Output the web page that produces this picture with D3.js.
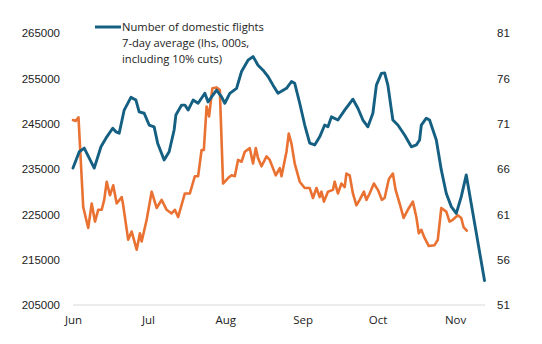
<!DOCTYPE html>
<html>
<head>
<meta charset="utf-8">
<script src="https://cdn.jsdelivr.net/npm/d3@7"></script>
<style>
  body { margin: 0; background: #fff; }
  svg { display: block; }
</style>
</head>
<body>
<svg id="chart" width="542" height="344"></svg>
<script>
// days counted from 1 June
const startDate = new Date(2022, 5, 1);
const monthLabels = ["Jun", "Jul", "Aug", "Sep", "Oct", "Nov"];
const leftTicks = [205000, 215000, 225000, 235000, 245000, 255000, 265000];
const rightTicks = [51, 56, 61, 66, 71, 76, 81];
const legendLines = ["Number of domestic flights", "7-day average (lhs, 000s,", "including 10% cuts)"];

// domestic flights, 7-day average (lhs)
const flightDays = [0, 2.5, 4.5, 8.5, 11.2, 13.2, 15.9, 17.2, 18.5, 20.5, 23.2, 25.2, 26.5, 28.5, 30.5, 32.5, 33.9, 36.5, 38.5, 40.5,
  41.2, 43.5, 44.8, 46.1, 48.1, 50.1, 52.8, 54.1, 55.5, 57.5, 59.5, 60.8, 62.8, 65.5, 67.5, 70.1, 72.1, 74.1, 76.1, 78.1,
  80.1, 82.1, 85.5, 87.5, 88.8, 90.8, 92.8, 94.8, 96.8, 98.8, 100.8, 102.1, 103.5, 106.1, 108.8, 112.1, 114.1, 116.1, 118.1, 120.1,
  121.5, 123.5, 124.8, 126.1, 128.1, 130.1, 132.8, 135.5, 137.5, 138.8, 139.5, 141.5, 142.8, 145.5, 147.5, 149.5, 151.5, 153.5, 155.5, 157.5,
  164.8];
const flightValues = [235200, 238800, 239600, 235200, 239900, 241800, 244000, 243200, 242900, 248000, 250800, 250200, 247600, 247300, 244700, 244300, 240700, 237000, 238800, 243600,
  246900, 249100, 249100, 248000, 250200, 249500, 251700, 249800, 250900, 252400, 250900, 249500, 251700, 252800, 256500, 259000, 259800, 257900, 256800, 255400,
  253500, 251700, 252800, 254300, 253900, 249500, 244700, 240700, 240300, 242100, 244700, 244300, 246500, 245800, 248000, 250400, 248400, 245800, 244300, 247300,
  253500, 256100, 256200, 253500, 245800, 244700, 242500, 239900, 240300, 241400, 244700, 246200, 245800, 241400, 234800, 229600, 226700, 225200, 228900, 233700,
  210400];

// second series (rhs)
const rhsDays = [0, 1.1, 2.2, 4.1, 6.1, 7.5, 8.8, 10.1, 11.5, 12.5, 13.5, 14.8, 16.1, 17.5, 19.5, 20, 22.1, 23.5, 25.5, 26.8,
  27.5, 29.5, 31.5, 33.5, 35.5, 37.5, 39.5, 40.8, 42.1, 44.8, 46.8, 48.8, 50.1, 51.5, 52.4, 53.5, 54.5, 55.8, 57.5, 58.8,
  60.1, 62.1, 63.5, 64.8, 66.1, 67.5, 68.8, 70.8, 72.1, 73.2, 74.1, 75.5, 77.5, 78.8, 81.2, 82.8, 83.5, 85.5, 86.4, 87.5,
  88.8, 90.8, 92.8, 94.8, 96.1, 97.5, 98.8, 99.5, 100.5, 102.1, 104.1, 104.8, 106.1, 107.5, 108.8, 109.5, 110.8, 112.1, 113.5, 114.8,
  116.5, 117.5, 118.8, 120.5, 122.1, 123.7, 124.8, 126.5, 128.1, 129.2, 130.8, 132.4, 134.1, 136.1, 137.5, 138.5, 139.5, 140.8, 142.5, 144.8,
  146.1, 147.5, 149.5, 150.8, 152.1, 154.1, 155.5, 156.4, 157.7];
const rhsValues = [71.4, 71.3, 71.7, 61.8, 59.5, 62.2, 60.2, 61.5, 61.5, 62.6, 64.6, 63.1, 64.2, 62.2, 62.9, 62.2, 58.2, 59.1, 57.1, 58.9,
  58.0, 60.4, 63.5, 61.7, 62.6, 61.5, 61.1, 61.5, 60.7, 63.3, 63.3, 65.2, 65.2, 68.1, 68.1, 72.9, 71.8, 74.9, 75.0, 74.7,
  64.4, 65.0, 65.3, 65.2, 67.0, 66.8, 67.9, 68.3, 66.6, 68.3, 67.2, 66.3, 67.4, 67.0, 65.3, 66.1, 65.2, 67.9, 69.9, 68.8,
  66.6, 64.6, 63.9, 63.9, 62.8, 63.9, 62.9, 63.5, 62.4, 63.5, 63.7, 64.6, 63.3, 64.4, 64.0, 65.5, 65.3, 63.3, 62.0, 62.6,
  63.5, 62.6, 63.3, 64.4, 63.7, 62.6, 62.8, 64.9, 65.5, 63.7, 62.2, 60.6, 61.5, 62.4, 60.7, 58.9, 59.3, 58.4, 57.5, 57.6,
  58.2, 61.7, 61.3, 60.2, 60.4, 60.9, 60.6, 59.6, 59.2];

const svg = d3.select("#chart"),
  blue = "#156082",
  orange = "#E97132",
  margin = {top: 33, right: 57, bottom: 39, left: 73},
  width = +svg.attr("width"),
  height = +svg.attr("height");

const toDate = d => new Date(startDate.getTime() + d * 864e5);

const x = d3.scaleTime()
  .domain([startDate, toDate(165)])
  .range([margin.left, width - margin.right]);
const yL = d3.scaleLinear().domain([205000, 265000]).range([height - margin.bottom, margin.top]);
const yR = d3.scaleLinear().domain([51, 81]).range([height - margin.bottom, margin.top]);

// baseline
svg.append("line")
  .attr("x1", x.range()[0]).attr("x2", x.range()[1])
  .attr("y1", yL(205000)).attr("y2", yL(205000))
  .attr("stroke", "#d9d9d9").attr("stroke-width", 1);

const numFont = "'Liberation Sans', Arial, sans-serif";
const txtFont = "'Open Sans', 'Noto Sans', sans-serif";

const left = svg.append("g")
  .attr("transform", "translate(" + margin.left + ",0)")
  .call(d3.axisLeft(yL).tickValues(leftTicks).tickSize(0).tickPadding(13).tickFormat(d3.format("d")));
const right = svg.append("g")
  .attr("transform", "translate(" + (width - margin.right) + ",0)")
  .call(d3.axisRight(yR).tickValues(rightTicks).tickSize(0).tickPadding(12).tickFormat(d3.format("d")));
const bottom = svg.append("g")
  .attr("transform", "translate(0," + yL(205000) + ")")
  .call(d3.axisBottom(x).ticks(d3.timeMonth.every(1)).tickSize(0).tickPadding(11)
    .tickFormat((d, i) => monthLabels[i]));

[left, right, bottom].forEach(g => {
  g.select(".domain").remove();
  g.selectAll("text").attr("fill", "#222").style("font-size", "11.5px").style("font-family", numFont);
});
bottom.selectAll("text").style("font-family", txtFont).style("font-size", "11.5px");

const line = (days, vals, y) => d3.line()
  .x((d, i) => x(toDate(days[i])))
  .y(d => y(d))
  .curve(d3.curveLinear)(vals);

svg.append("path")
  .attr("d", line(rhsDays, rhsValues, yR))
  .attr("fill", "none").attr("stroke", orange).attr("stroke-width", 2.6)
  .attr("stroke-linejoin", "round").attr("stroke-linecap", "round");

svg.append("path")
  .attr("d", line(flightDays, flightValues, yL))
  .attr("fill", "none").attr("stroke", blue).attr("stroke-width", 2.9)
  .attr("stroke-linejoin", "round").attr("stroke-linecap", "round");

// legend
const lg = svg.append("g");
lg.append("line")
  .attr("x1", 95).attr("x2", 121).attr("y1", 27).attr("y2", 27)
  .attr("stroke", blue).attr("stroke-width", 3);
lg.selectAll("text")
  .data(legendLines)
  .enter().append("text")
  .attr("x", 122)
  .attr("y", (d, i) => 31 + i * 16)
  .attr("fill", "#222")
  .style("font-family", txtFont)
  .style("font-size", "11.2px")
  .text(d => d);
</script>
</body>
</html>
